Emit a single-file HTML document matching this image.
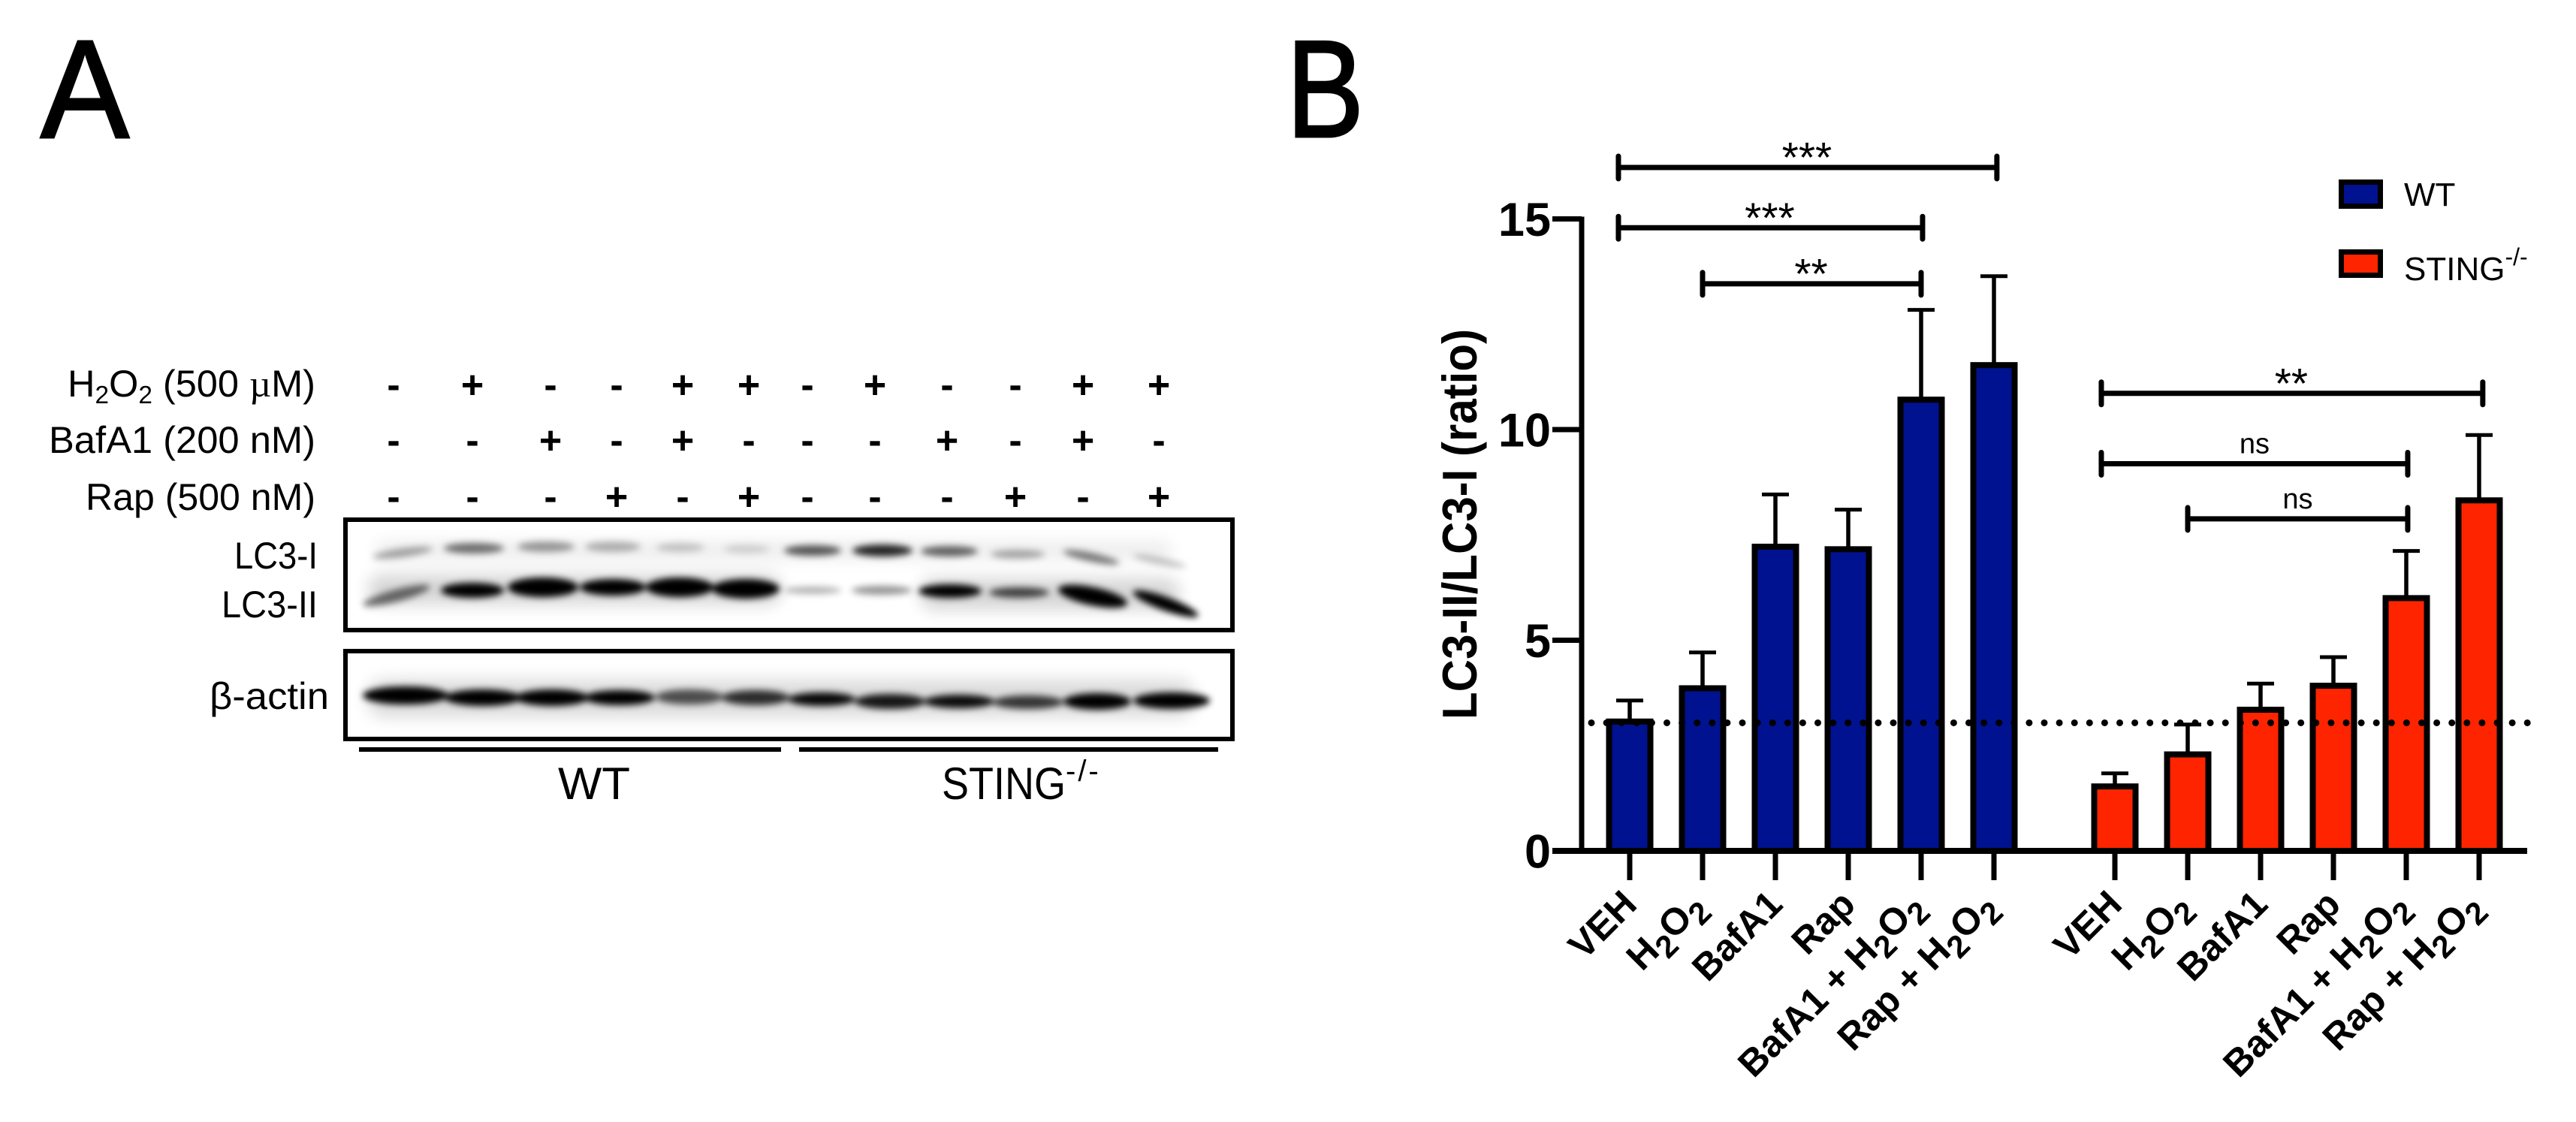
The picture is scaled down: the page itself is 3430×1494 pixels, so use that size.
<!DOCTYPE html>
<html lang="en">
<head>
<meta charset="utf-8">
<title>LC3 western blot and LC3-II/LC3-I ratio chart</title>
<style>
html,body{margin:0;padding:0;background:#fff;}
svg{display:block;}
text{font-family:"Liberation Sans",Arial,sans-serif;fill:#000;}
.reg{font-size:50px;}
.sign{font-size:52px;text-anchor:middle;font-weight:bold;}
</style>
</head>
<body>
<svg id="figure" xmlns="http://www.w3.org/2000/svg" width="3430" height="1494" viewBox="0 0 3430 1494">
<defs>
<filter id="b3" x="-30%" y="-150%" width="160%" height="400%"><feGaussianBlur stdDeviation="4.5"/></filter>
<filter id="b10" x="-30%" y="-300%" width="160%" height="700%"><feGaussianBlur stdDeviation="11"/></filter>
</defs>
<rect width="3430" height="1494" fill="#fff"/>

<text font-size="186" stroke="#000" stroke-width="3" transform="translate(54 183) scale(.95 1)">A</text>
<text font-size="184" stroke="#000" stroke-width="3" transform="translate(1713 182) scale(.84 1)">B</text>

<!-- treatment table -->
<g class="reg">
<text x="90" y="528" class="reg" textLength="330" lengthAdjust="spacingAndGlyphs">H<tspan font-size="33" dy="9">2</tspan><tspan dy="-9">O</tspan><tspan font-size="33" dy="9">2</tspan><tspan dy="-9"> (500 </tspan><tspan font-family="Liberation Serif">µ</tspan><tspan>M)</tspan></text>
<text x="65" y="603" class="reg" textLength="355" lengthAdjust="spacingAndGlyphs">BafA1 (200 nM)</text>
<text x="114" y="679" class="reg" textLength="306" lengthAdjust="spacingAndGlyphs">Rap (500 nM)</text>
<text x="312" y="757" class="reg" textLength="111" lengthAdjust="spacingAndGlyphs">LC3-I</text>
<text x="295" y="822" class="reg" textLength="128" lengthAdjust="spacingAndGlyphs">LC3-II</text>
<text x="279" y="944" class="reg" textLength="159" lengthAdjust="spacingAndGlyphs">β-actin</text>
</g>
<g>
<text class="sign" y="530" x="524">-</text><text class="sign" y="530" x="629">+</text><text class="sign" y="530" x="733">-</text><text class="sign" y="530" x="821">-</text><text class="sign" y="530" x="909">+</text><text class="sign" y="530" x="997">+</text><text class="sign" y="530" x="1075">-</text><text class="sign" y="530" x="1165">+</text><text class="sign" y="530" x="1261">-</text><text class="sign" y="530" x="1352">-</text><text class="sign" y="530" x="1442">+</text><text class="sign" y="530" x="1543">+</text>
</g>
<g>
<text class="sign" y="604" x="524">-</text><text class="sign" y="604" x="629">-</text><text class="sign" y="604" x="733">+</text><text class="sign" y="604" x="821">-</text><text class="sign" y="604" x="909">+</text><text class="sign" y="604" x="997">-</text><text class="sign" y="604" x="1075">-</text><text class="sign" y="604" x="1165">-</text><text class="sign" y="604" x="1261">+</text><text class="sign" y="604" x="1352">-</text><text class="sign" y="604" x="1442">+</text><text class="sign" y="604" x="1543">-</text>
</g>
<g>
<text class="sign" y="679" x="524">-</text><text class="sign" y="679" x="629">-</text><text class="sign" y="679" x="733">-</text><text class="sign" y="679" x="821">+</text><text class="sign" y="679" x="909">-</text><text class="sign" y="679" x="997">+</text><text class="sign" y="679" x="1075">-</text><text class="sign" y="679" x="1165">-</text><text class="sign" y="679" x="1261">-</text><text class="sign" y="679" x="1352">+</text><text class="sign" y="679" x="1442">-</text><text class="sign" y="679" x="1543">+</text>
</g>

<!-- LC3 blot -->
<g>
<g filter="url(#b10)" fill="#000" opacity=".16">
<rect x="490" y="765" width="550" height="40" rx="18"/>
<rect x="1225" y="770" width="345" height="42" rx="18"/>
<rect x="500" y="722" width="1060" height="22" rx="10" opacity=".5"/>
</g>
<g filter="url(#b3)" fill="#000">
<ellipse cx="536" cy="736" rx="40" ry="6" opacity=".33" transform="rotate(-8 536 736)"/>
<ellipse cx="631" cy="730" rx="40" ry="7" opacity=".55"/>
<ellipse cx="727" cy="728" rx="38" ry="7" opacity=".38"/>
<ellipse cx="816" cy="728" rx="37" ry="7" opacity=".28"/>
<ellipse cx="906" cy="729" rx="32" ry="6" opacity=".2"/>
<ellipse cx="994" cy="731" rx="30" ry="6" opacity=".14"/>
<ellipse cx="1082" cy="733" rx="38" ry="7" opacity=".65"/>
<ellipse cx="1175" cy="733" rx="40" ry="8" opacity=".85"/>
<ellipse cx="1264" cy="734" rx="38" ry="7" opacity=".6"/>
<ellipse cx="1355" cy="738" rx="36" ry="6" opacity=".32"/>
<ellipse cx="1453" cy="742" rx="38" ry="6" opacity=".5" transform="rotate(12 1453 742)"/>
<ellipse cx="1544" cy="747" rx="36" ry="5" opacity=".22" transform="rotate(12 1544 747)"/>
</g>
<g filter="url(#b3)" fill="#000">
<ellipse cx="528" cy="793" rx="46" ry="8" opacity=".55" transform="rotate(-15 528 793)"/>
<ellipse cx="629" cy="786" rx="42" ry="10"/>
<ellipse cx="723" cy="782" rx="47" ry="13"/>
<ellipse cx="816" cy="782" rx="44" ry="11"/>
<ellipse cx="905" cy="782" rx="45" ry="13"/>
<ellipse cx="993" cy="784" rx="45" ry="13"/>
<ellipse cx="1082" cy="786" rx="38" ry="5" opacity=".3"/>
<ellipse cx="1174" cy="786" rx="40" ry="6" opacity=".42"/>
<ellipse cx="1265" cy="787" rx="42" ry="9"/>
<ellipse cx="1357" cy="789" rx="40" ry="7" opacity=".7"/>
<ellipse cx="1455" cy="794" rx="47" ry="12" transform="rotate(12 1455 794)"/>
<ellipse cx="1552" cy="804" rx="46" ry="9" transform="rotate(20 1552 804)"/>
</g>
<rect x="460" y="692" width="1181" height="147" fill="none" stroke="#000" stroke-width="6"/>
</g>

<!-- actin blot -->
<g>
<rect x="490" y="905" width="1100" height="50" rx="20" fill="#000" opacity=".14" filter="url(#b10)"/>
<g filter="url(#b3)" fill="#000">
<ellipse cx="540" cy="926" rx="57" ry="12"/>
<ellipse cx="643" cy="929" rx="51" ry="11"/>
<ellipse cx="735" cy="929" rx="49" ry="11"/>
<ellipse cx="825" cy="929" rx="47" ry="10"/>
<ellipse cx="918" cy="928" rx="45" ry="10" opacity=".65"/>
<ellipse cx="1006" cy="929" rx="45" ry="10" opacity=".8"/>
<ellipse cx="1094" cy="931" rx="45" ry="9" opacity=".97"/>
<ellipse cx="1185" cy="934" rx="47" ry="10" opacity=".9"/>
<ellipse cx="1277" cy="934" rx="47" ry="9" opacity=".95"/>
<ellipse cx="1369" cy="935" rx="47" ry="9" opacity=".76"/>
<ellipse cx="1461" cy="934" rx="45" ry="11"/>
<ellipse cx="1560" cy="933" rx="51" ry="11"/>
</g>
<rect x="460" y="867" width="1181" height="117" fill="none" stroke="#000" stroke-width="6"/>
</g>

<rect x="478" y="995" width="562" height="6" fill="#000"/>
<rect x="1064" y="995" width="558" height="6" fill="#000"/>
<text x="743" y="1064" font-size="60" textLength="96" lengthAdjust="spacingAndGlyphs">WT</text>
<text x="1254" y="1064" font-size="60" textLength="165" lengthAdjust="spacingAndGlyphs">STING</text>
<text x="1419" y="1040" font-size="40" letter-spacing="3">-/-</text>

<g id="chart"></g>
</svg>

<script>
const categories = ['VEH', 'H2O2', 'BafA1', 'Rap', 'BafA1 + H2O2', 'Rap + H2O2'];
const wtValues = [3.07, 3.86, 7.22, 7.16, 10.71, 11.53];
const wtErrors = [3.57, 4.71, 8.46, 8.10, 12.84, 13.64];
const stingValues = [1.53, 2.29, 3.35, 3.92, 6.0, 8.32];
const stingErrors = [1.84, 3.0, 3.97, 4.6, 7.12, 9.87];
const yTicks = [0, 5, 10, 15];
const referenceValue = 3.04;
const wtBracketFrom = [-0.155, -0.155, 1];
const wtBracketTo = [5.04, 4.02, 4];
const wtBracketLevel = [16.22, 14.79, 13.46];
const wtBracketLabel = ['***', '***', '**'];
const stingBracketFrom = [-0.186, -0.186, 1];
const stingBracketTo = [5.05, 4.02, 4.02];
const stingBracketLevel = [10.86, 9.19, 7.88];
const stingBracketLabel = ['**', 'ns', 'ns'];

const NS = 'http://www.w3.org/2000/svg';
const chart = document.getElementById('chart');
const yScale = v => 1133 - 56.1 * v;
const xWt = i => 2170 + 97 * i;
const xSting = i => 2816 + 97 * i;

function mk(tag, attrs, parent) {
  const el = document.createElementNS(NS, tag);
  for (const k in attrs) el.setAttribute(k, attrs[k]);
  (parent || chart).appendChild(el);
  return el;
}

function fillLabel(el, label) {
  const parts = label.split(/(?<=[HO])2/);
  let lowered = false;
  parts.forEach((part, idx) => {
    if (part) {
      const t = mk('tspan', lowered ? {dy: -13} : {}, el);
      t.textContent = part;
      lowered = false;
    }
    if (idx < parts.length - 1) {
      const s = mk('tspan', {'font-size': 42, dy: 13}, el);
      s.textContent = '2';
      lowered = true;
    }
  });
}

function drawSeries(name, xFn, values, errors, colour) {
  values.forEach((v, i) => {
    const x = xFn(i);
    const errLine = mk('line', {x1: x, x2: x, y1: yScale(v), y2: yScale(errors[i]), stroke: '#000', 'stroke-width': 5.5});
    
    
    const errCap = mk('line', {x1: x - 18, x2: x + 18, y1: yScale(errors[i]), y2: yScale(errors[i]), stroke: '#000', 'stroke-width': 5});
    
    
    const bar = mk('rect', {x: x - 27.5, y: yScale(v), width: 55, height: yScale(0) - yScale(v), fill: colour, stroke: '#000', 'stroke-width': 8});
    
    
    const tick = mk('line', {x1: x, x2: x, y1: yScale(0), y2: 1172, stroke: '#000', 'stroke-width': 7});
    
    
    const hasSub = /2$/.test(categories[i]);
    const ax = x + (hasSub ? 5.5 : 12);
    const ay = hasSub ? 1208.5 : 1207;
    const label = mk('text', {x: ax, y: ay, 'text-anchor': 'end', 'font-size': 50, 'font-weight': 'bold', transform: 'rotate(-45 ' + ax + ' ' + ay + ')'});
    
    
    fillLabel(label, categories[i]);
  });
}

function drawBrackets(name, xFn, from, to, level, labels) {
  level.forEach((lv, i) => {
    const x1 = xFn(from[i]), x2 = xFn(to[i]), y = yScale(lv);
    const group = mk('g', {});
    
    
    mk('line', {x1: x1, x2: x2, y1: y, y2: y, stroke: '#000', 'stroke-width': 7}, group);
    mk('line', {x1: x1, x2: x1, y1: y - 15, y2: y + 15, stroke: '#000', 'stroke-width': 7, 'stroke-linecap': 'round'}, group);
    mk('line', {x1: x2, x2: x2, y1: y - 15, y2: y + 15, stroke: '#000', 'stroke-width': 7, 'stroke-linecap': 'round'}, group);
    const isNs = labels[i] === 'ns';
    const t = mk('text', {x: (x1 + x2) / 2 - (isNs ? 0 : 1), y: isNs ? y - 14 : y + 6, 'text-anchor': 'middle', 'font-size': isNs ? 38 : 57}, group);
    
    
    t.textContent = labels[i];
  });
}

drawSeries('wt', xWt, wtValues, wtErrors, '#00128f');
drawSeries('sting', xSting, stingValues, stingErrors, '#ff2400');

const xAxis = mk('line', {x1: 2067, x2: 3365, y1: yScale(0), y2: yScale(0), stroke: '#000', 'stroke-width': 8});


const yAxis = mk('line', {x1: 2106, x2: 2106, y1: yScale(yTicks[yTicks.length - 1]) - 3, y2: yScale(0) + 3, stroke: '#000', 'stroke-width': 7});



yTicks.forEach(v => {
  const tick = mk('line', {x1: 2067, x2: 2106, y1: yScale(v), y2: yScale(v), stroke: '#000', 'stroke-width': 7});
  
  
  const label = mk('text', {x: 2065, y: yScale(v) + 22.5, 'text-anchor': 'end', 'font-size': 63, 'font-weight': 'bold'});
  
  
  label.textContent = String(v);
});

const yTitle = mk('text', {x: 0, y: 0, 'text-anchor': 'middle', 'font-size': 60, 'font-weight': 'bold', transform: 'translate(1966 698) rotate(-90) scale(1 1.08)'});


yTitle.textContent = 'LC3-II/LC3-I (ratio)';

const refLine = mk('line', {x1: 2119, x2: 3370, y1: yScale(referenceValue), y2: yScale(referenceValue), stroke: '#000', 'stroke-width': 9, 'stroke-linecap': 'round', 'stroke-dasharray': '0 20.1'});



drawBrackets('wt', xWt, wtBracketFrom, wtBracketTo, wtBracketLevel, wtBracketLabel);
drawBrackets('sting', xSting, stingBracketFrom, stingBracketTo, stingBracketLevel, stingBracketLabel);

const legendWt = mk('g', {});


mk('rect', {x: 3117.5, y: 242.5, width: 52, height: 32, fill: '#00128f', stroke: '#000', 'stroke-width': 7}, legendWt);
const legendWtText = mk('text', {x: 3201, y: 274, 'font-size': 44}, legendWt);
legendWtText.textContent = 'WT';

const legendSting = mk('g', {});


mk('rect', {x: 3117.5, y: 335.5, width: 52, height: 31, fill: '#ff2400', stroke: '#000', 'stroke-width': 7}, legendSting);
const legendStingText = mk('text', {x: 3201, y: 373, 'font-size': 44}, legendSting);
legendStingText.textContent = 'STING';
const legendSup = mk('tspan', {'font-size': 32, dy: -20}, legendStingText);
legendSup.textContent = '-/-';
</script>
</body>
</html>
